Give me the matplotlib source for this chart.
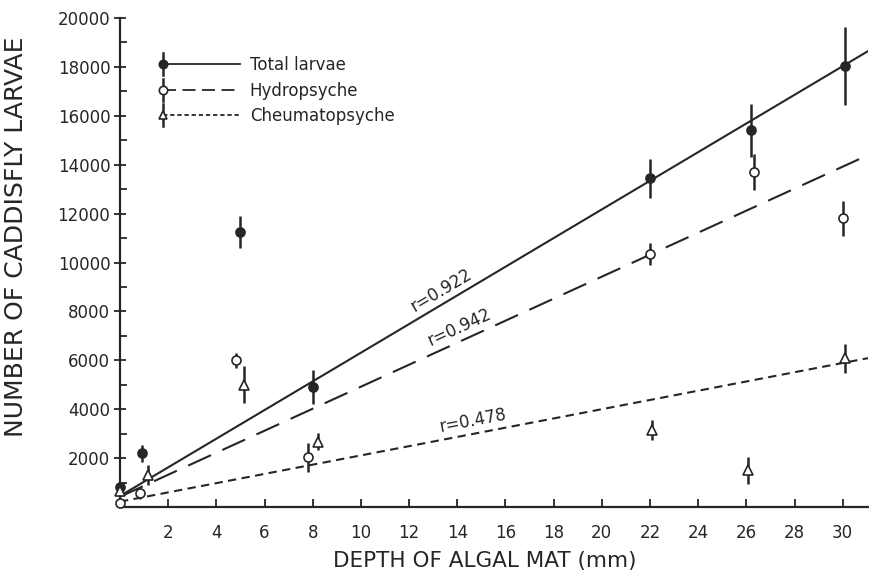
import numpy as np
import matplotlib
matplotlib.use("Agg")
import matplotlib.pyplot as plt
from matplotlib.lines import Line2D
from matplotlib.legend_handler import HandlerBase

# Depth of algal mat (mm), counts and error bar half-lengths
total_x = [0.0, 0.9, 5.0, 8.0, 22.0, 26.2, 30.1]
total_y = [830, 2200, 11250, 4900, 13450, 15400, 18050]
total_err = [150, 350, 650, 700, 800, 1100, 1600]

hydro_x = [0.0, 0.85, 4.8, 7.8, 22.0, 26.3, 30.0]
hydro_y = [150, 560, 6000, 2030, 10350, 13700, 11800]
hydro_err = [0, 250, 300, 600, 450, 750, 700]

cheum_x = [0.0, 1.15, 5.15, 8.2, 22.1, 26.05, 30.1]
cheum_y = [650, 1300, 5000, 2670, 3150, 1510, 6080]
cheum_err = [150, 400, 750, 350, 400, 550, 600]

# fitted regression lines (intercept, slope) and correlation labels
fit_total = (450, 586)
fit_hydro = (420, 450)
fit_cheum = (220, 189)
r_labels = ["r=0.922", "r=0.942", "r=0.478"]
r_label_x = [12.3, 12.95, 13.35]

labels = ["Total larvae", "Hydropsyche", "Cheumatopsyche"]
x_ticks = list(range(2, 32, 2))
y_ticks = list(range(2000, 22000, 2000))

INK = "#262626"
LONG_DASH = (12, 6)
SHORT_DASH = (4, 2.6)


class ErrorMarkerHandler(HandlerBase):
    """Legend key: marker with error bar at the left end of the line."""
    def create_artists(self, legend, orig, xdescent, ydescent, width, height,
                       fontsize, trans):
        y = height / 2 - ydescent
        x0 = -xdescent
        line = Line2D([x0, x0 + width], [y, y])
        line.update_from(orig)
        line.set_marker("None")
        line.set_transform(trans)
        h = 0.65 * fontsize
        bar = Line2D([x0, x0], [y - h, y + h], color=INK, lw=1.8, transform=trans)
        mk = Line2D([x0], [y], marker=orig.get_marker(), markersize=orig.get_markersize(),
                    markerfacecolor=orig.get_markerfacecolor(), markeredgecolor=INK,
                    markeredgewidth=1.2, linestyle="None", transform=trans)
        return [line, bar, mk]


fig = plt.figure(figsize=(8.7, 5.76), dpi=100)
fig.patch.set_facecolor("white")
ax = fig.add_axes([120 / 870, 69 / 576, 748 / 870, 489 / 576])

ax.set_xlim(0, 31.05)
ax.set_ylim(0, 20000)

series = [
    (total_x, total_y, total_err, "o", INK, fit_total, None),
    (hydro_x, hydro_y, hydro_err, "o", "white", fit_hydro, LONG_DASH),
    (cheum_x, cheum_y, cheum_err, "^", "white", fit_cheum, SHORT_DASH),
]

proxies = []
xfit = np.array([0, 31.05])
for xs, ys, errs, mk, face, (b, m), dash in series:
    eb = ax.errorbar(xs, ys, yerr=errs, fmt=mk, ms=6.5, mfc=face, mec=INK, mew=1.2,
                     ecolor=INK, elinewidth=1.8, capsize=0, zorder=3)
    for art in eb.lines[0:1] + tuple(eb.lines[2]):
        art.set_clip_on(False)
    ln, = ax.plot(xfit, b + m * xfit, color=INK, lw=1.5, zorder=2)
    if dash:
        ln.set_dashes(dash)
    p = Line2D([], [], color=INK, lw=1.3, marker=mk, ms=6, mfc=face)
    if dash:
        p.set_dashes((dash[0] * 0.6, dash[1] * 0.6))
    proxies.append(p)

# correlation labels rotated along their fit lines
for (b, m), txt, tx in zip([fit_total, fit_hydro, fit_cheum], r_labels, r_label_x):
    p1 = ax.transData.transform((0, b))
    p2 = ax.transData.transform((30, b + 30 * m))
    ang = np.degrees(np.arctan2(p2[1] - p1[1], p2[0] - p1[0]))
    ax.annotate(txt, (tx, b + m * tx), xytext=(0, 3), textcoords="offset points",
                rotation=ang, rotation_mode="anchor", ha="left", va="bottom",
                fontsize=12, color=INK)

leg = ax.legend(proxies, labels, handler_map={Line2D: ErrorMarkerHandler()},
                loc="upper left", bbox_to_anchor=(163 / 870, 1 - 56 / 576),
                bbox_transform=fig.transFigure, frameon=False, fontsize=12,
                handlelength=4.6, handletextpad=0.6, labelspacing=0.45,
                borderpad=0, borderaxespad=0)
for t in leg.get_texts():
    t.set_color(INK)

for side in ["top", "right"]:
    ax.spines[side].set_visible(False)
for side in ["left", "bottom"]:
    ax.spines[side].set_color(INK)
    ax.spines[side].set_linewidth(1.6)

ax.set_xticks(x_ticks)
ax.set_xticklabels([str(v) for v in x_ticks])
ax.set_yticks(y_ticks)
ax.set_yticklabels([str(v) for v in y_ticks])
ax.set_yticks(list(range(1000, 20000, 2000)), minor=True)
ax.tick_params(axis="x", direction="in", length=6, width=1.3, colors=INK,
               labelsize=12, pad=12)
ax.tick_params(axis="y", which="major", direction="inout", length=8, width=1.3,
               colors=INK, labelsize=12, pad=3)
ax.tick_params(axis="y", which="minor", direction="in", length=5, width=1.3, colors=INK)

ax.set_xlabel("DEPTH OF ALGAL MAT (mm)", fontsize=15.5, color=INK, va="center")
ax.xaxis.set_label_coords(0.488, -0.111)
ax.set_ylabel("NUMBER OF CADDISFLY LARVAE", fontsize=18, color=INK, va="center")
ax.yaxis.set_label_coords(-0.139, 0.552)

fig.savefig("out.png", dpi=100, facecolor="white")
